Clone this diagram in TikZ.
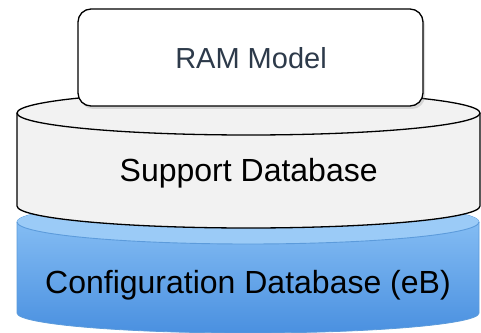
\documentclass[tikz,border=0pt]{standalone}
\usepackage{fontspec}
\setmainfont{Liberation Sans}
\usetikzlibrary{shadows}
\definecolor{bluetop}{HTML}{8FC5F7}
\definecolor{bluebot}{HTML}{4A90E0}
\definecolor{bluecap}{HTML}{9BCBF7}
\definecolor{blueline}{HTML}{5C9BDB}
\definecolor{supfill}{HTML}{F2F2F2}
\definecolor{ramtext}{HTML}{2D3A4A}
\tikzset{
  lbl/.style={anchor=base, inner sep=0pt, font=\fontsize{32}{38}\selectfont},
  cylline/.style={draw=black, line width=1.3pt},
}
\begin{document}
\begin{tikzpicture}[x=1pt,y=1pt]
\useasboundingbox (0,0) rectangle (481,332);
% Configuration database (blue cylinder)
\shade[top color=bluetop, bottom color=bluebot, draw=blueline, line width=0.8pt]
  (17,110) -- (17,19) arc[start angle=180, end angle=360, x radius=231, y radius=20]
  -- (479,110) arc[start angle=0, end angle=180, x radius=231, y radius=22] -- cycle;
\fill[bluecap] (248,110) ellipse[x radius=231, y radius=22];
\draw[blueline, line width=0.9pt] (17,110) arc[start angle=180, end angle=360, x radius=231, y radius=22];
% Support database (grey cylinder)
\fill[supfill] (17,219) -- (17,126) arc[start angle=180, end angle=360, x radius=231.5, y radius=22]
  -- (480,219) arc[start angle=0, end angle=180, x radius=231.5, y radius=22] -- cycle;
\draw[cylline] (17,219) -- (17,126) arc[start angle=180, end angle=360, x radius=231.5, y radius=22] -- (480,219);
\draw[cylline] (248.5,219) ellipse[x radius=231.5, y radius=22];
% RAM model box
\draw[fill=white, line width=1.3pt, rounded corners=13pt,
      drop shadow={shadow xshift=2pt, shadow yshift=-3pt, opacity=0.25}]
  (78,226) rectangle (423,323);
% labels
\node[lbl, font=\fontsize{29}{35}\selectfont, text=ramtext] (ram) at (251,263) {RAM Model};
\node[lbl] (sup) at (248.7,150) {Support Database};
\node[lbl] (cfg) at (248,39) {Configuration Database (eB)};
\end{tikzpicture}
\end{document}
